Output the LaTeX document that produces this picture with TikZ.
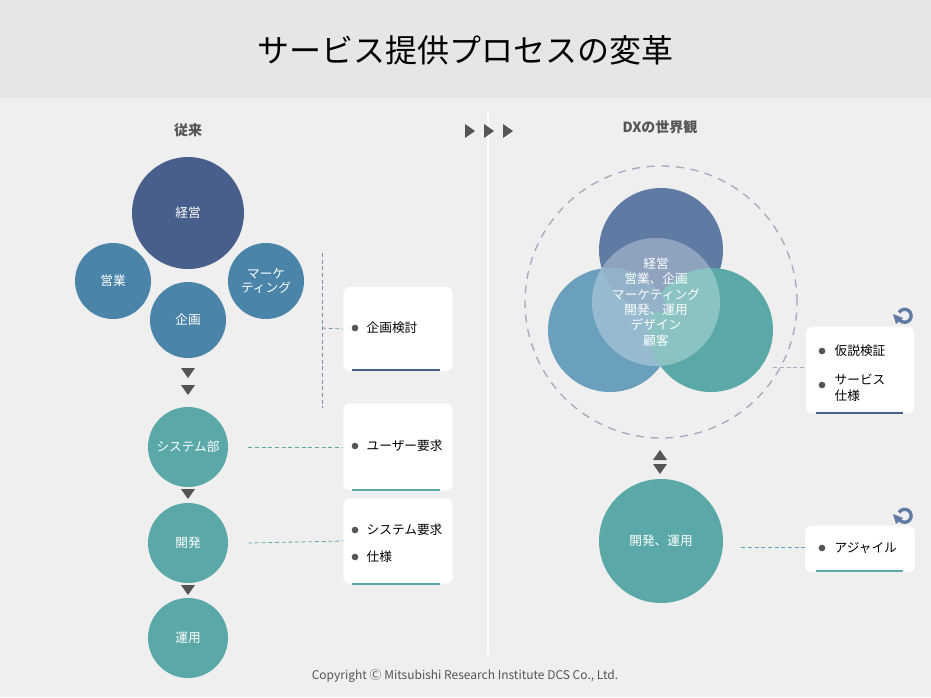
\documentclass[tikz,border=0pt]{standalone}
\usepackage{fontspec}
\setmainfont{Noto Sans CJK JP}
\usetikzlibrary{arrows.meta}
\definecolor{bg}{HTML}{EFEFEF}
\definecolor{band}{HTML}{E6E6E6}
\definecolor{navy}{HTML}{475F8A}
\definecolor{steel}{HTML}{4A84A8}
\definecolor{teal}{HTML}{5AA9A8}
\definecolor{topc}{HTML}{5F7BA3}
\definecolor{leftc}{HTML}{6A9FBD}
\definecolor{gtxt}{HTML}{555555}
\definecolor{dashc}{HTML}{A8A8C0}
\tikzset{
 circ/.style={circle,inner sep=0pt,text=white,font=\fontsize{9.5}{11}\selectfont,align=center},
 card/.style={fill=white,rounded corners=5pt,draw=none},
 dotl/.style={densely dashed,line width=0.6pt},
 lbl/.style={font=\fontsize{9.5}{12}\selectfont,anchor=west,align=left,text=black},
 bul/.style={circle,fill=gtxt,inner sep=0pt,minimum size=5pt},
}
\begin{document}
\begin{tikzpicture}[x=0.75pt,y=-0.75pt]
\useasboundingbox (0,0) rectangle (931,697);
\fill[bg] (0,0) rectangle (931,697);
\fill[band] (0,0) rectangle (931,98);
\node (title) at (465,50) {\fontsize{24}{28}\selectfont サービス提供プロセスの変革};
\draw[white,line width=1.5pt] (488,110) -- (488,655);
\node[text=gtxt,font=\bfseries\fontsize{10.5}{12}\selectfont] (h1) at (188,130) {従来};
\node[text=gtxt,font=\bfseries\fontsize{10.5}{12}\selectfont] (h2) at (660,127) {DXの世界観};
\foreach \x in {470,489,508}{\fill[gtxt] (\x-5,124)--(\x+5,131)--(\x-5,138)--cycle;}
% left
\node[circ,fill=navy,minimum size=84pt] (keiei) at (188,213) {経営};
\node[circ,fill=steel,minimum size=57pt] (eigyo) at (113,281) {営業};
\node[circ,fill=steel,minimum size=57pt] (kikaku) at (188,320) {企画};
\node[circ,fill=steel,minimum size=57pt] (mk) at (266,281) {マーケ\\ティング};
\foreach \y in {373,390,494,590}{\fill[gtxt] (181,\y-5)--(195,\y-5)--(188,\y+5)--cycle;}
\node[circ,fill=teal,minimum size=60pt] (sys) at (188,447) {システム部};
\node[circ,fill=teal,minimum size=60pt] (kai) at (188,543) {開発};
\node[circ,fill=teal,minimum size=60pt] (un) at (188,638) {運用};
% cards left
\node[card,minimum width=82pt,minimum height=63pt] (c1) at (398,329) {};
\draw[navy,line width=1.2pt] (352,370)--(440,370);
\node[bul] (b1) at (355,328) {}; \node[lbl] at (362,328) {企画検討};
\node[card,minimum width=82pt,minimum height=65pt] (c2) at (398,447) {};
\draw[teal,line width=1.2pt] (352,490)--(440,490);
\node[bul] (b2) at (355,446) {}; \node[lbl] at (362,446) {ユーザー要求};
\node[card,minimum width=82pt,minimum height=64pt] (c3) at (398,541) {};
\draw[teal,line width=1.2pt] (352,584)--(440,584);
\node[bul] (b3) at (355,530) {}; \node[lbl] at (362,530) {システム要求};
\node[bul] (b4) at (355,557) {}; \node[lbl] at (362,557) {仕様};
\coordinate (v1) at (322,253); \coordinate (v2) at (322,408); \coordinate (v3) at (322,328);
\draw[dotl,navy!70] (v1)--(v2);
\draw[dotl,navy!70] (v3)--(c1.west);
\draw[dotl,teal] (sys.east)++(20,0) -- (c2.west);
\draw[dotl,teal] (kai.east)++(20,0) -- (c3.west);
% right
\node[circle,draw=dashc,line width=1pt,minimum size=204pt,dash pattern=on 6pt off 5pt] (big) at (661,302) {};
\node[circle,fill=topc,minimum size=93pt] (t) at (661,250) {};
\node[circle,fill=leftc,minimum size=93pt] (l) at (610,330) {};
\node[circle,fill=teal,minimum size=93pt] (r) at (711,330) {};
\begin{scope}
\clip (610,330) circle (62);
\fill[leftc!60!topc] (661,250) circle (62);
\end{scope}
\node[circle,fill=white,fill opacity=0.3,minimum size=96pt] (ov) at (656,302) {};
\node[text=white,align=center,font=\fontsize{9.5}{11.5}\selectfont] (ctext) at (656,302) {経営\\営業、企画\\マーケティング\\開発、運用\\デザイン\\顧客};
\fill[gtxt] (653,460)--(667,460)--(660,450)--cycle;
\fill[gtxt] (653,464)--(667,464)--(660,474)--cycle;
\node[circ,fill=teal,minimum size=93pt] (kr) at (661,541) {開発、運用};
\node[card,minimum width=81pt,minimum height=65pt] (c4) at (860,370) {};
\draw[navy,line width=1.2pt] (816,413)--(903,413);
\node[bul] (b5) at (822,351) {}; \node[lbl] at (830,351) {仮説検証};
\node[bul] (b6) at (822,385) {}; \node[lbl] at (830,388) {サービス\\仕様};
\node[card,minimum width=82pt,minimum height=35pt] (c5) at (860,549) {};
\draw[teal,line width=1.2pt] (816,571)--(903,571);
\node[bul] (b7) at (822,548) {}; \node[lbl] at (830,548) {アジャイル};
\draw[dotl,dashc] (r.east)++(0,37) -- (c4.west |- 0,367);
\draw[dotl,teal] (kr.east)++(18,6) -- (c5.west |- 0,547);
\foreach \y in {323,523}{
 \draw[topc,line width=2.5pt] (899,\y-4) arc[start angle=150,end angle=-150,radius=6.5];
 \fill[topc] (893,\y-9)--(903,\y-5)--(896,\y+1)--cycle;
}
\node[text=gtxt,font=\fontsize{9}{11}\selectfont] (copy) at (465,676) {Copyright Ⓒ Mitsubishi Research Institute DCS Co., Ltd.};
\end{tikzpicture}
\end{document}
